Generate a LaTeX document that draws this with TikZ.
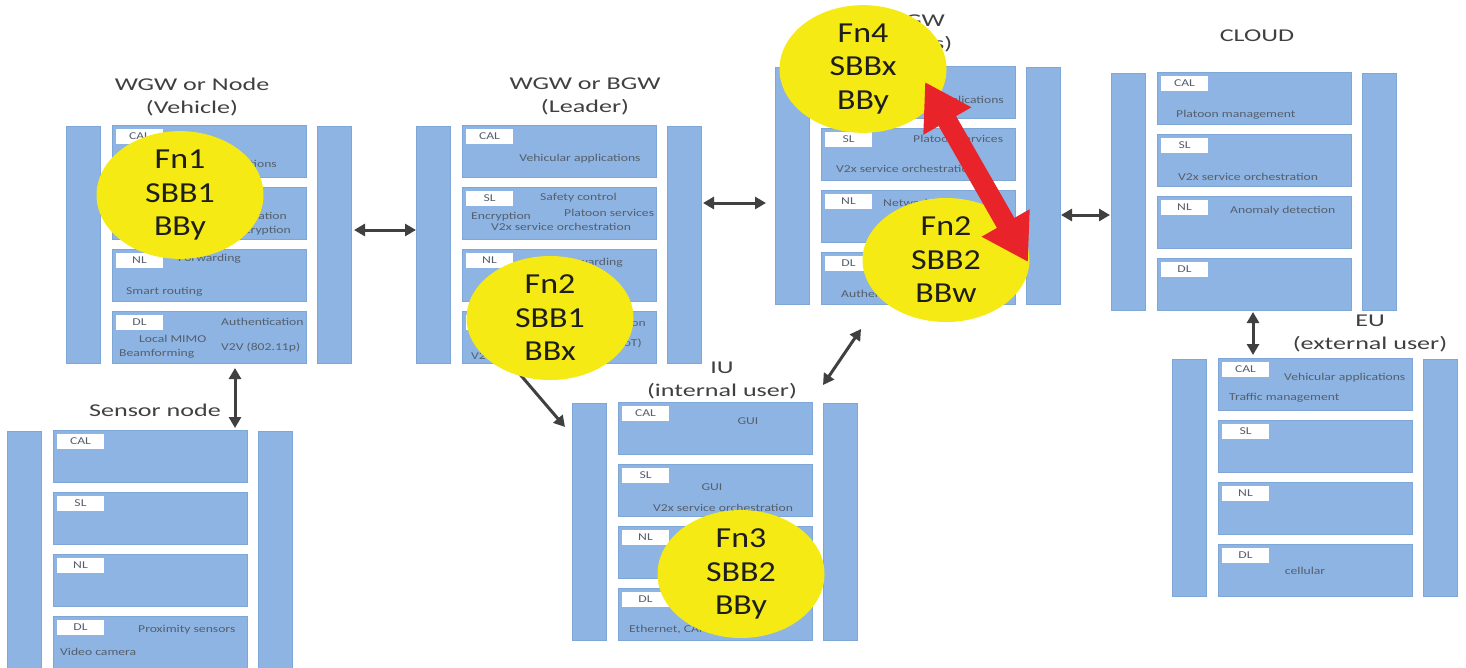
\documentclass[tikz,border=0pt]{standalone}
\usepackage{fontspec}
\setmainfont{Carlito}
\newfontfamily\titlef[FakeStretch=1.45]{Carlito}
\newfontfamily\smallf[FakeStretch=1.3]{Carlito}
\newfontfamily\ellf[FakeStretch=1.17]{Carlito}
\usetikzlibrary{arrows.meta,shapes.geometric,calc}
\definecolor{barblue}{HTML}{8DB4E2}
\definecolor{barline}{HTML}{7EA6D6}
\definecolor{ylw}{HTML}{F5EA14}
\definecolor{redarr}{HTML}{E8232A}
\definecolor{garr}{HTML}{404040}
\definecolor{ttlcol}{HTML}{404040}
\definecolor{smallcol}{HTML}{555F6D}
\definecolor{elltext}{HTML}{1E1E1E}
\tikzset{
  bar/.style={draw=barline,line width=0.6pt,fill=barblue,minimum width=34pt,minimum height=237pt,inner sep=0pt,outer sep=0pt},
  layer/.style={draw=barline,line width=0.6pt,fill=barblue,minimum width=194pt,minimum height=52pt,inner sep=0pt,outer sep=0pt},
  tab/.style={fill=white,minimum width=47pt,minimum height=15pt,inner sep=0pt,outer sep=0pt,font=\smallf\fontsize{10.5}{12}\selectfont,text=smallcol},
  txt/.style={font=\smallf\fontsize{10.5}{12}\selectfont,text=smallcol,inner sep=0pt},
  ttl/.style={font=\titlef\fontsize{18}{23.5}\selectfont,text=ttlcol,align=center,inner sep=0pt},
  fnell/.style={ellipse,fill=ylw,minimum width=167pt,minimum height=124pt,inner sep=0pt,align=center,font=\ellf\fontsize{29}{33.5}\selectfont,text=elltext},
  garrow/.style={draw=garr,line width=3pt,{Triangle[length=11pt 0 0,width=12pt 0 0]}-{Triangle[length=11pt 0 0,width=12pt 0 0]}},
  garrowone/.style={draw=garr,line width=3pt,-{Triangle[length=11pt 0 0,width=12pt 0 0]}},
  rarrow/.style={draw=redarr,line width=20pt,{Triangle[length=45pt 0 0,width=52pt 0 0]}-{Triangle[length=45pt 0 0,width=52pt 0 0]}}
}
\newcommand{\layerstack}[3]{%
  \node[bar,anchor=north west] (#1-l) at ({#2},{#3+1}) {};
  \node[layer,anchor=north west] (#1-cal) at ({#2+46},{#3}) {};
  \node[layer,anchor=north west] (#1-sl) at ({#2+46},{#3+62}) {};
  \node[layer,anchor=north west] (#1-nl) at ({#2+46},{#3+124}) {};
  \node[layer,anchor=north west] (#1-dl) at ({#2+46},{#3+186}) {};
  \node[bar,anchor=north west] (#1-r) at ({#2+251},{#3+1}) {};
  \node[tab,anchor=north west] (#1-caltab) at ({#2+50},{#3+4}) {CAL};
  \node[tab,anchor=north west] (#1-sltab) at ({#2+50},{#3+66}) {SL};
  \node[tab,anchor=north west] (#1-nltab) at ({#2+50},{#3+128}) {NL};
  \node[tab,anchor=north west] (#1-dltab) at ({#2+50},{#3+190}) {DL};
}
\begin{document}
\begin{tikzpicture}[x=1pt,y=-1pt]
\useasboundingbox (0,0) rectangle (1466,667);
\clip (0,0) rectangle (1466,667);

% ---------- stacks ----------
\layerstack{veh}{66}{125}
\layerstack{lead}{416}{125}
\layerstack{bgw}{775}{66}
\layerstack{cloud}{1111}{72}
\layerstack{sens}{7}{430}
\layerstack{iu}{572}{402}
\layerstack{eu}{1172}{358}

% ---------- titles ----------
\node[ttl] (t-veh) at (192,97) {WGW or Node\\(Vehicle)};
\node[ttl] (t-lead) at (585,96.5) {WGW or BGW\\(Leader)};
\node[ttl] (t-bgw) at (918,33.5) {BGW\\(RSUs)};
\node[ttl] (t-cloud) at (1257,36) {CLOUD};
\node[ttl] (t-sens) at (155,410) {Sensor node};
\node[ttl] (t-iu) at (722,380.5) {IU\\(internal user)};
\node[ttl] (t-eu) at (1370,333.5) {EU\\(external user)};

% ---------- vehicle texts ----------
\node[txt,anchor=east] (v1) at (277,165) {Vehicular applications};
\node[txt,anchor=east] (v2) at (287,216) {Authentication};
\node[txt,anchor=east] (v3) at (291,231) {Encryption};
\node[txt,anchor=west] (v4) at (178,259) {Forwarding};
\node[txt,anchor=west] (v5) at (126,292) {Smart routing};
\node[txt,anchor=west] (v6) at (221,322) {Authentication};
\node[txt,anchor=west] (v7) at (139,339) {Local MIMO};
\node[txt,anchor=west] (v8) at (119,354) {Beamforming};
\node[txt,anchor=west] (v9) at (221,347) {V2V (802.11p)};

% ---------- leader texts ----------
\node[txt] (l1) at (580,159) {Vehicular applications};
\node[txt,anchor=west] (l2) at (540,198) {Safety control};
\node[txt,anchor=west] (l3) at (471,217) {Encryption};
\node[txt,anchor=west] (l4) at (564,213) {Platoon services};
\node[txt,anchor=west] (l5) at (491,227) {V2x service orchestration};
\node[txt,anchor=east] (l6) at (623,263) {Forwarding};
\node[txt,anchor=east] (l7) at (646,323) {Authentication};
\node[txt,anchor=east] (l8) at (642,343) {Cellular (NB-IoT)};
\node[txt,anchor=west] (l9) at (471,356) {V2V (802.11p)};

% ---------- BGW texts ----------
\node[txt,anchor=east] (b1) at (1004,101) {Vehicular applications};
\node[txt,anchor=west] (b2) at (913,139) {Platoon services};
\node[txt,anchor=west] (b3) at (836,169) {V2x service orchestration};
\node[txt,anchor=west] (b4) at (883,204) {Networking};
\node[txt,anchor=west] (b5) at (841,294) {Authentication};

% ---------- cloud texts ----------
\node[txt,anchor=west] (c1) at (1176,115) {Platoon management};
\node[txt,anchor=west] (c2) at (1178,177) {V2x service orchestration};
\node[txt,anchor=west] (c3) at (1230,211) {Anomaly detection};

% ---------- sensor texts ----------
\node[txt,anchor=west] (s1) at (138,630) {Proximity sensors};
\node[txt,anchor=west] (s2) at (60,652) {Video camera};

% ---------- IU texts ----------
\node[txt] (i1) at (748,421) {GUI};
\node[txt] (i2) at (712,487) {GUI};
\node[txt,anchor=west] (i3) at (653,508) {V2x service orchestration};
\node[txt,anchor=west] (i4) at (629,630) {Ethernet, CAN};

% ---------- EU texts ----------
\node[txt,anchor=west] (u1) at (1284,378) {Vehicular applications};
\node[txt,anchor=west] (u2) at (1229,398) {Traffic management};
\node[txt] (u3) at (1305,571) {cellular};

% ---------- gray connectors ----------
\draw[garrow,shorten <=3pt] ([yshift=14.5pt]veh-r.east) -- ([yshift=14.5pt]lead-l.west);
\draw[garrow,shorten <=2pt,shorten >=9pt] ([yshift=41.5pt]lead-r.east) -- ([yshift=-17.5pt]bgw-l.west);
\draw[garrow,shorten <=1pt,shorten >=1pt] ([yshift=-29.5pt]bgw-r.east) -- ([yshift=-23.5pt]cloud-l.west);
\draw[garrow] ([shift={(26pt,-5pt)}]veh-dl.south) -- ([shift={(85pt,2pt)}]sens-cal.north);
\draw[garrow] ([shift={(-1pt,-2pt)}]cloud-dl.south) -- ([shift={(-62pt,3pt)}]eu-cal.north);
\draw[garrowone] ([shift={(50pt,-2pt)}]lead-dl.south west) -- ([shift={(-7pt,-24pt)}]iu-l.north west);
\draw[garrow] ([shift={(-57pt,-25pt)}]bgw-dl.south) -- ([shift={(-17pt,18pt)}]iu-r.north);

% ---------- ellipses ----------
\node[fnell] (e1) at (180,195) {Fn1\\SBB1\\BBy};
\node[fnell] (e2) at (550,318) {Fn2\\SBB1\\BBx};
\node[fnell] (e3) at (863,69) {Fn4\\SBBx\\BBy};
\node[fnell] (e4) at (946,260) {Fn2\\SBB2\\BBw};
\node[fnell] (e5) at (741,574) {Fn3\\SBB2\\BBy};

% ---------- red connector ----------
\draw[rarrow] ([shift={(62pt,-13pt)}]e3.center) -- ([shift={(82pt,-2pt)}]e4.center);
\end{tikzpicture}
\end{document}
